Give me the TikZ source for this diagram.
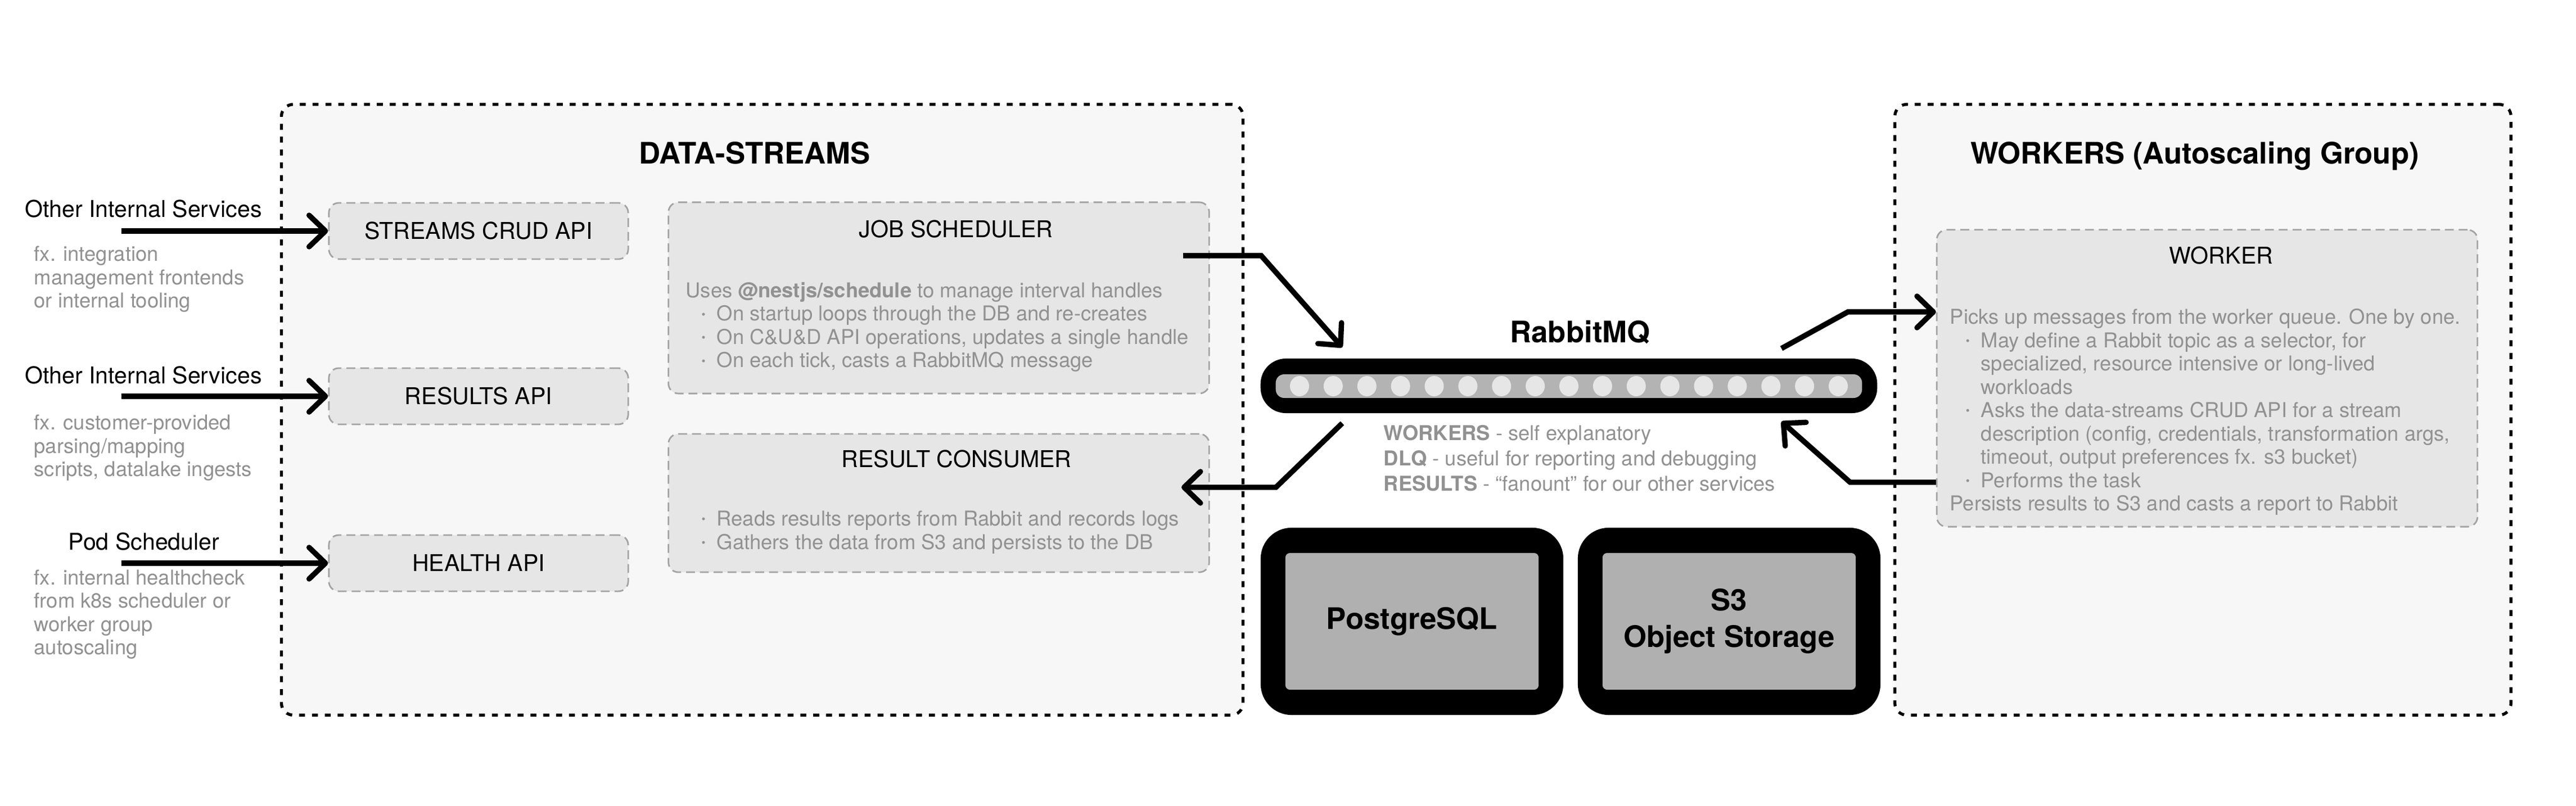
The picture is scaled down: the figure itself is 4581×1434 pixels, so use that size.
\documentclass[tikz,border=0pt]{standalone}
\usepackage{fontspec}
\usepackage{graphicx}
\setmainfont{TeX Gyre Heros}
\usetikzlibrary{arrows.meta}

\definecolor{groupfill}{HTML}{F7F7F7}
\definecolor{boxfill}{HTML}{E6E6E6}
\definecolor{boxline}{HTML}{A3A3A3}
\definecolor{notegray}{HTML}{919191}
\definecolor{dbgray}{HTML}{B0B0B0}
\definecolor{barfill}{HTML}{B3B3B3}
\definecolor{slotfill}{HTML}{E6E6E6}

\newcommand\bigfont{\fontsize{15}{18.5}\selectfont\bfseries}
\newcommand\labelfont{\fontsize{11.7}{14}\selectfont}
\newcommand\notefont{\fontsize{10.35}{11.8}\selectfont}
\newcommand\notebul{\hspace*{0.28cm}\makebox[0.27cm][l]{\raisebox{0.13em}{\scalebox{0.55}{\textbullet}}}}
\newcommand\noteind{\hspace*{0.55cm}}

\tikzset{
  groupbox/.style={draw=black, line width=1.5pt, dash pattern=on 3pt off 3.5pt, fill=groupfill, rounded corners=6pt},
  apibox/.style={draw=boxline, line width=0.8pt, dash pattern=on 4.5pt off 2.5pt, fill=boxfill, rounded corners=5pt, minimum width=5.32cm, minimum height=1cm, font=\labelfont},
  procbox/.style={apibox, minimum width=9.61cm},
  grouptitle/.style={font=\bigfont, anchor=base},
  caller/.style={font=\labelfont, anchor=base},
  boxtitle/.style={font=\labelfont},
  note/.style={font=\notefont, text=notegray, align=left, anchor=west, inner sep=0pt},
  flow/.style={line width=2.7pt, -{Straight Barb[length=2.9mm,width=5.6mm,round]}},
  dbframe/.style={fill=black, rounded corners=0.55cm, minimum width=5.38cm, minimum height=3.33cm},
  dbcore/.style={fill=dbgray, rounded corners=0.08cm, minimum width=4.5cm, minimum height=2.43cm, font=\bigfont, align=center},
}

\begin{document}
\begin{tikzpicture}[x=0.01cm,y=-0.01cm]
\useasboundingbox (0,0) rectangle (4581,1434);
\fill[white] (0,0) rectangle (4581,1434);

\node(streams) at (1355.5,729)[groupbox, minimum width=17.09cm, minimum height=10.86cm]{};
\node(workers) at (3917.5,729)[groupbox, minimum width=10.95cm, minimum height=10.86cm]{};
\node(streamstitle) at (1342,292)[grouptitle]{DATA-STREAMS};
\node(workerstitle) at (3903,292)[grouptitle]{WORKERS (Autoscaling Group)};

\node(crud) at (851,411)[apibox]{STREAMS CRUD API};
\node(results) at (851,705)[apibox]{RESULTS API};
\node(health) at (851,1002)[apibox]{HEALTH API};

\node(job) at (1669.5,530)[procbox, minimum height=3.4cm]{};
\node(jobtitle) at (1700,408)[boxtitle]{JOB SCHEDULER};
\node(jobnote) at (1219,582)[note]{Uses \textbf{@nestjs/schedule} to manage interval handles\\
  \notebul On startup loops through the DB and re-creates\\
  \notebul On C\&U\&D API operations, updates a single handle\\
  \notebul On each tick, casts a RabbitMQ message};

\node(consumer) at (1669.5,895)[procbox, minimum height=2.46cm]{};
\node(consumertitle) at (1701,817)[boxtitle]{RESULT CONSUMER};
\node(consumernote) at (1219,947)[note]{\notebul Reads results reports from Rabbit and records logs\\
  \notebul Gathers the data from S3 and persists to the DB};

\node(worker) at (3925,673)[procbox, minimum height=5.28cm]{};
\node(workertitle) at (3950,455)[boxtitle]{WORKER};
\node(workernote) at (3467,733)[note]{Picks up messages from the worker queue. One by one.\\
  \notebul May define a Rabbit topic as a selector, for\\
  \noteind specialized, resource intensive or long-lived\\
  \noteind workloads\\
  \notebul Asks the data-streams CRUD API for a stream\\
  \noteind description (config, credentials, transformation args,\\
  \noteind timeout, output preferences fx. s3 bucket)\\
  \notebul Performs the task\\
  Persists results to S3 and casts a report to Rabbit};

\node(svc1) at (255,387)[caller]{Other Internal Services};
\node(svc1note) at (60,497)[note]{fx. integration\\management frontends\\or internal tooling};
\node(svc2) at (255,683)[caller]{Other Internal Services};
\node(svc2note) at (60,797)[note]{fx. customer-provided\\parsing/mapping\\scripts, datalake ingests};
\node(pods) at (256,978)[caller]{Pod Scheduler};
\node(podsnote) at (60,1093)[note]{fx. internal healthcheck\\from k8s scheduler or\\worker group\\autoscaling};

\node(rabbit) at (2790,686.5)[fill=black, rounded corners=0.45cm, minimum width=10.96cm, minimum height=0.97cm]{};
\node(queue) at (2790,687)[fill=barfill, rounded corners=0.15cm, minimum width=10.42cm, minimum height=0.42cm]{};
\foreach \i in {0,...,16}
  \fill[slotfill] ({2311+59.875*\i},687) ellipse [x radius=0.17cm, y radius=0.18cm];
\node(mqtitle) at (2810,610)[grouptitle]{RabbitMQ};
\node(mqnote) at (2460,815)[note, font=\fontsize{10.35}{12.8}\selectfont]{\textbf{WORKERS} - self explanatory\\
  \textbf{DLQ} - useful for reporting and debugging\\
  \textbf{RESULTS} - “fanount” for our other services};

\node(pgframe) at (2511,1105.5)[dbframe]{};
\node(pg) at (2511,1105.5)[dbcore]{PostgreSQL};
\node(s3frame) at (3075,1105.5)[dbframe]{};
\node(s3) at (3075,1105.5)[dbcore]{S3\\Object Storage};

\coordinate(svc1in) at (216,411);
\coordinate(svc2in) at (216,705);
\coordinate(podsin) at (216,1002);
\coordinate(jobout) at (2104,455);
\coordinate(jobbend) at (2243,455);
\coordinate(mqin) at (2387,618);
\coordinate(mqout) at (2387,753);
\coordinate(resbend) at (2269,867);
\coordinate(resin) at (2101,867);
\coordinate(wkstart) at (3168,620);
\coordinate(wkbend) at (3286,555);
\coordinate(wkback) at (3290,858);
\coordinate(mqback) at (3168,750);

\draw[flow] (svc1in) -- (crud);
\draw[flow] (svc2in) -- (results);
\draw[flow] (podsin) -- (health);
\draw[flow] (jobout) -- (jobbend) -- (mqin);
\draw[flow] (mqout) -- (resbend) -- (resin);
\draw[flow] (wkstart) -- (wkbend) -- (wkbend -| worker.west);
\draw[flow] (wkback -| worker.west) -- (wkback) -- (mqback);

\end{tikzpicture}
\end{document}
